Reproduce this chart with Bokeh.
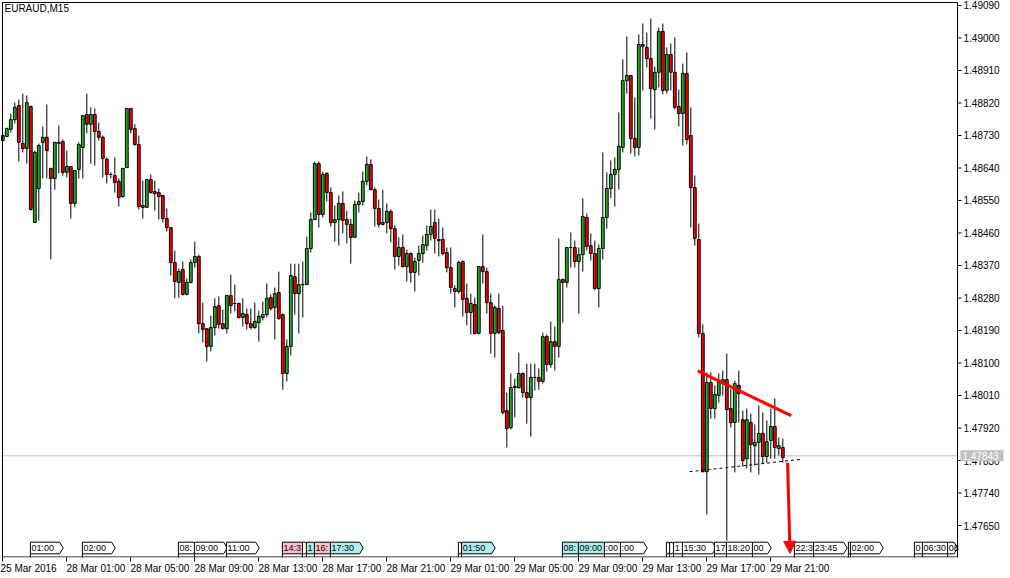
from bokeh.plotting import figure
from bokeh.models import Range1d, FixedTicker, Label, Arrow, NormalHead, AllLabels
from bokeh.core.properties import value
from bokeh.embed import file_html
from bokeh.resources import INLINE

symbol = "EURAUD,M15"

open_ = [1.48716, 1.48727, 1.48747, 1.48774, 1.48813, 1.48708, 1.48694, 1.48810, 1.48489, 1.48583,
         1.48711, 1.48725, 1.48639, 1.48611, 1.48708, 1.48713, 1.48628, 1.48644, 1.48542, 1.48636,
         1.48697, 1.48788, 1.48761, 1.48788, 1.48741, 1.48725, 1.48664, 1.48622, 1.48619, 1.48603,
         1.48561, 1.48641, 1.48805, 1.48749, 1.48705, 1.48536, 1.48531, 1.48608, 1.48575, 1.48572,
         1.48564, 1.48500, 1.48475, 1.48378, 1.48323, 1.48359, 1.48290, 1.48323, 1.48378, 1.48395,
         1.48209, 1.48195, 1.48146, 1.48198, 1.48259, 1.48209, 1.48195, 1.48287, 1.48265, 1.48265,
         1.48226, 1.48234, 1.48209, 1.48198, 1.48212, 1.48226, 1.48234, 1.48281, 1.48254, 1.48295,
         1.48234, 1.48071, 1.48146, 1.48339, 1.48292, 1.48317, 1.48317, 1.48417, 1.48497, 1.48652,
         1.48511, 1.48625, 1.48572, 1.48489, 1.48497, 1.48542, 1.48497, 1.48484, 1.48448, 1.48539,
         1.48547, 1.48603, 1.48650, 1.48580, 1.48528, 1.48484, 1.48489, 1.48520, 1.48472, 1.48395,
         1.48420, 1.48367, 1.48403, 1.48351, 1.48384, 1.48403, 1.48425, 1.48456, 1.48489, 1.48442,
         1.48442, 1.48406, 1.48364, 1.48306, 1.48298, 1.48381, 1.48279, 1.48240, 1.48262, 1.48182,
         1.48367, 1.48353, 1.48267, 1.48182, 1.48251, 1.48190, 1.47968, 1.47921, 1.48032, 1.48032,
         1.48071, 1.48018, 1.48004, 1.48060, 1.48060, 1.48049, 1.48173, 1.48096, 1.48159, 1.48146,
         1.48331, 1.48323, 1.48420, 1.48420, 1.48381, 1.48400, 1.48503, 1.48425, 1.48403, 1.48306,
         1.48417, 1.48503, 1.48583, 1.48622, 1.48636, 1.48697, 1.48882, 1.48896, 1.48722, 1.48697,
         1.48982, 1.48974, 1.48943, 1.48857, 1.48905, 1.49018, 1.48855, 1.48954, 1.48905, 1.48810,
         1.48791, 1.48902, 1.48730, 1.48586, 1.48442, 1.48182, 1.47799, 1.48046, 1.47974, 1.48010,
         1.48046, 1.48054, 1.47974, 1.47935, 1.48038, 1.47943, 1.47835, 1.47935, 1.47871, 1.47880,
         1.47905, 1.47841, 1.47885, 1.47924, 1.47863, 1.47866]

high_ = [1.48736, 1.48752, 1.48791, 1.48821, 1.48830, 1.48846, 1.48841, 1.48813, 1.48688, 1.48708,
         1.48755, 1.48816, 1.48639, 1.48711, 1.48758, 1.48719, 1.48688, 1.48644, 1.48633, 1.48711,
         1.48785, 1.48846, 1.48808, 1.48805, 1.48766, 1.48730, 1.48669, 1.48628, 1.48669, 1.48611,
         1.48639, 1.48805, 1.48805, 1.48761, 1.48730, 1.48605, 1.48608, 1.48622, 1.48605, 1.48583,
         1.48564, 1.48528, 1.48475, 1.48411, 1.48362, 1.48381, 1.48334, 1.48387, 1.48436, 1.48400,
         1.48267, 1.48195, 1.48231, 1.48279, 1.48284, 1.48248, 1.48287, 1.48345, 1.48317, 1.48267,
         1.48279, 1.48251, 1.48251, 1.48267, 1.48245, 1.48270, 1.48320, 1.48290, 1.48309, 1.48353,
         1.48237, 1.48165, 1.48375, 1.48375, 1.48375, 1.48381, 1.48450, 1.48517, 1.48658, 1.48658,
         1.48630, 1.48628, 1.48586, 1.48536, 1.48564, 1.48575, 1.48522, 1.48500, 1.48550, 1.48572,
         1.48630, 1.48672, 1.48664, 1.48586, 1.48553, 1.48580, 1.48542, 1.48525, 1.48481, 1.48448,
         1.48456, 1.48414, 1.48406, 1.48392, 1.48425, 1.48453, 1.48481, 1.48525, 1.48525, 1.48500,
         1.48475, 1.48420, 1.48420, 1.48315, 1.48384, 1.48384, 1.48320, 1.48292, 1.48281, 1.48367,
         1.48456, 1.48364, 1.48292, 1.48259, 1.48292, 1.48259, 1.48018, 1.48071, 1.48057, 1.48129,
         1.48074, 1.48098, 1.48098, 1.48098, 1.48085, 1.48184, 1.48179, 1.48215, 1.48201, 1.48445,
         1.48334, 1.48420, 1.48461, 1.48439, 1.48420, 1.48556, 1.48514, 1.48459, 1.48439, 1.48428,
         1.48683, 1.48628, 1.48661, 1.48669, 1.48794, 1.48941, 1.49004, 1.48896, 1.48835, 1.49010,
         1.49040, 1.49015, 1.49054, 1.48921, 1.49029, 1.49040, 1.48974, 1.48985, 1.49002, 1.48857,
         1.48929, 1.48960, 1.48808, 1.48619, 1.48486, 1.48207, 1.48074, 1.48074, 1.48038, 1.48071,
         1.48079, 1.48126, 1.48029, 1.48051, 1.48079, 1.47968, 1.47974, 1.47960, 1.47930, 1.47982,
         1.47963, 1.47941, 1.47974, 1.48002, 1.47894, 1.47891]

low_ = [1.48713, 1.48725, 1.48738, 1.48763, 1.48658, 1.48683, 1.48652, 1.48522, 1.48489, 1.48495,
        1.48611, 1.48611, 1.48387, 1.48580, 1.48625, 1.48619, 1.48614, 1.48500, 1.48531, 1.48611,
        1.48611, 1.48736, 1.48652, 1.48647, 1.48716, 1.48614, 1.48597, 1.48611, 1.48572, 1.48533,
        1.48558, 1.48641, 1.48736, 1.48702, 1.48525, 1.48500, 1.48531, 1.48569, 1.48522, 1.48497,
        1.48489, 1.48464, 1.48342, 1.48279, 1.48281, 1.48287, 1.48287, 1.48320, 1.48364, 1.48182,
        1.48157, 1.48104, 1.48132, 1.48176, 1.48195, 1.48193, 1.48182, 1.48237, 1.48243, 1.48223,
        1.48201, 1.48193, 1.48193, 1.48195, 1.48159, 1.48218, 1.48226, 1.48245, 1.48165, 1.48220,
        1.48026, 1.48049, 1.48121, 1.48234, 1.48182, 1.48226, 1.48317, 1.48406, 1.48497, 1.48475,
        1.48503, 1.48547, 1.48478, 1.48436, 1.48425, 1.48459, 1.48431, 1.48375, 1.48448, 1.48517,
        1.48536, 1.48592, 1.48578, 1.48478, 1.48475, 1.48481, 1.48459, 1.48434, 1.48359, 1.48370,
        1.48364, 1.48326, 1.48323, 1.48298, 1.48342, 1.48378, 1.48411, 1.48439, 1.48403, 1.48395,
        1.48398, 1.48351, 1.48292, 1.48254, 1.48292, 1.48229, 1.48204, 1.48179, 1.48179, 1.48179,
        1.48320, 1.48237, 1.48126, 1.48115, 1.48179, 1.47957, 1.47866, 1.47916, 1.47949, 1.48029,
        1.48004, 1.47932, 1.47896, 1.48024, 1.48026, 1.48043, 1.48076, 1.48087, 1.48079, 1.48115,
        1.48212, 1.48309, 1.48364, 1.48364, 1.48237, 1.48353, 1.48411, 1.48384, 1.48301, 1.48254,
        1.48387, 1.48472, 1.48556, 1.48533, 1.48580, 1.48683, 1.48846, 1.48680, 1.48672, 1.48675,
        1.48855, 1.48918, 1.48777, 1.48747, 1.48863, 1.48844, 1.48846, 1.48855, 1.48802, 1.48755,
        1.48702, 1.48705, 1.48475, 1.48425, 1.48171, 1.47797, 1.47680, 1.47946, 1.47946, 1.47990,
        1.48010, 1.47608, 1.47921, 1.47797, 1.47935, 1.47813, 1.47808, 1.47797, 1.47816, 1.47791,
        1.47821, 1.47824, 1.47835, 1.47835, 1.47844, 1.47824]

close_ = [1.48730, 1.48749, 1.48774, 1.48808, 1.48711, 1.48694, 1.48821, 1.48525, 1.48683, 1.48702,
          1.48725, 1.48688, 1.48611, 1.48711, 1.48711, 1.48628, 1.48644, 1.48542, 1.48633, 1.48705,
          1.48785, 1.48761, 1.48788, 1.48741, 1.48725, 1.48666, 1.48622, 1.48622, 1.48600, 1.48558,
          1.48639, 1.48805, 1.48747, 1.48705, 1.48533, 1.48531, 1.48608, 1.48572, 1.48569, 1.48561,
          1.48500, 1.48475, 1.48378, 1.48326, 1.48353, 1.48290, 1.48323, 1.48378, 1.48395, 1.48209,
          1.48193, 1.48146, 1.48198, 1.48256, 1.48207, 1.48195, 1.48287, 1.48259, 1.48265, 1.48226,
          1.48237, 1.48209, 1.48198, 1.48215, 1.48229, 1.48234, 1.48279, 1.48251, 1.48292, 1.48223,
          1.48071, 1.48146, 1.48342, 1.48292, 1.48317, 1.48317, 1.48417, 1.48497, 1.48652, 1.48511,
          1.48622, 1.48572, 1.48489, 1.48497, 1.48542, 1.48495, 1.48484, 1.48448, 1.48539, 1.48547,
          1.48603, 1.48650, 1.48580, 1.48528, 1.48484, 1.48489, 1.48520, 1.48472, 1.48395, 1.48420,
          1.48367, 1.48403, 1.48351, 1.48381, 1.48403, 1.48428, 1.48456, 1.48478, 1.48445, 1.48439,
          1.48403, 1.48364, 1.48309, 1.48298, 1.48378, 1.48276, 1.48240, 1.48265, 1.48182, 1.48367,
          1.48353, 1.48267, 1.48182, 1.48254, 1.48184, 1.47963, 1.47918, 1.48032, 1.48035, 1.48071,
          1.48018, 1.48004, 1.48060, 1.48060, 1.48049, 1.48173, 1.48096, 1.48159, 1.48146, 1.48331,
          1.48323, 1.48420, 1.48420, 1.48381, 1.48400, 1.48506, 1.48423, 1.48403, 1.48306, 1.48417,
          1.48503, 1.48583, 1.48622, 1.48636, 1.48700, 1.48882, 1.48896, 1.48722, 1.48697, 1.48982,
          1.48977, 1.48943, 1.48860, 1.48905, 1.49018, 1.48855, 1.48954, 1.48905, 1.48808, 1.48791,
          1.48902, 1.48719, 1.48586, 1.48445, 1.48182, 1.47799, 1.48046, 1.47974, 1.48013, 1.48046,
          1.48054, 1.47971, 1.47935, 1.48043, 1.48015, 1.47830, 1.47943, 1.47874, 1.47880, 1.47905,
          1.47841, 1.47882, 1.47924, 1.47866, 1.47871, 1.47838]

bar_index = list(range(len(open_)))

x_tick_bars = [0, 16, 32, 48, 64, 80, 96, 112, 128, 144, 160, 176, 192]
x_tick_labels = ["25 Mar 2016", "28 Mar 01:00", "28 Mar 05:00", "28 Mar 09:00", "28 Mar 13:00",
                 "28 Mar 17:00", "28 Mar 21:00", "29 Mar 01:00", "29 Mar 05:00", "29 Mar 09:00",
                 "29 Mar 13:00", "29 Mar 17:00", "29 Mar 21:00"]
y_ticks = [1.47650, 1.47740, 1.47830, 1.47920, 1.48010, 1.48100, 1.48190, 1.48280, 1.48370,
           1.48460, 1.48550, 1.48640, 1.48730, 1.48820, 1.48910, 1.49000, 1.49090]
current_price = 1.47843

# drawn objects (bar units / prices)
trend_x = [173.75, 197.1]
trend_y = [1.48078, 1.47954]
support_x = [171.7, 199.4]
support_y = [1.47799, 1.47833]
arrow_x = [196.2, 196.8]
arrow_y = [1.47824, 1.47573]

# event markers along the time scale
mk_start = [6.9, 19.9, 43.9, 47.9, 55.9, 69.9, 74.9, 75.9, 77.9, 81.9, 113.9, 114.7, 139.9, 143.9,
            150.4, 154.4, 165.9, 166.7, 167.7, 169.9, 177.9, 180.9, 187.4, 197.9, 202.7, 211.4,
            211.9, 227.9, 229.9, 236.2]
mk_end = [14.2, 27.2, 47.7, 55.2, 63.2, 74.9, 75.7, 77.7, 81.9, 89.2, 114.4, 122.2, 143.9, 150.4,
          154.4, 160.2, 166.4, 167.4, 169.9, 177.4, 180.9, 187.4, 191.2, 202.7, 210.2, 211.9,
          219.2, 229.9, 236.2, 237.8]
mk_text = ["01:00", "02:00", "08:", "09:00", "11:00", "14:3", "", "1", "16:", "17:30", "", "01:50",
           "08:", "09:00", ":00", ":00", "", "", "1", "15:30", "17", "18:20", "00", "22:3", "23:45",
           "", "02:00", "0", "06:30", "08"]
mk_kind = ["w", "w", "w", "w", "w", "p", "w", "c", "p", "c", "w", "c", "c", "c", "w", "w", "w",
           "w", "w", "w", "w", "w", "w", "w", "w", "w", "w", "w", "w", "w"]

# view window (bar units / prices)
X0, X1 = -0.575, 251.425
Y0, Y1 = 1.475614, 1.491038
FRAME_H = 557
PXP = (Y1 - Y0) / FRAME_H        # price per screen pixel
PXB = (X1 - X0) / 1008.0         # bars per screen pixel
AX = 238.675                     # price-scale line (bar units)
LEFT_B = X0 + 2 * PXB
TOP_B = Y1 - 2 * PXP
BOT_B = Y0 + 0.5 * PXP

FONT = "Liberation Sans"

p = figure(width=1008, height=576, output_backend="svg", toolbar_location=None,
           x_range=Range1d(X0, X1), y_range=Range1d(Y0, Y1),
           y_axis_location=None,
           min_border_left=0, min_border_top=0, min_border_right=0, min_border_bottom=576 - FRAME_H)
p.background_fill_color = "white"
p.border_fill_color = "white"
p.outline_line_color = None
p.grid.visible = False

# time axis
xa = p.xaxis[0]
xa.ticker = FixedTicker(ticks=x_tick_bars)
pad = {}
for k, (b, lab) in enumerate(zip(x_tick_bars, x_tick_labels)):
    pad[b] = lab if k == 0 else "\u00a0" * 21 + lab
xa.major_label_overrides = pad
xa.major_label_policy = AllLabels()
xa.axis_line_color = None
xa.major_tick_line_color = "black"
xa.major_tick_out = 4
xa.major_tick_in = 0
xa.minor_tick_out = 0
xa.minor_tick_in = 0
xa.major_label_text_font = FONT
xa.major_label_text_font_size = "10px"
xa.major_label_text_color = "black"
xa.major_label_standoff = 1

# current price line
p.segment(x0=[X0], y0=[current_price], x1=[AX], y1=[current_price],
          line_color="#c0c0c0", line_width=1)

# candles
body_top = [max(o, c) for o, c in zip(open_, close_)]
body_bot = [min(o, c) for o, c in zip(open_, close_)]
body_col = ["#20b020" if c > o else ("#ff0000" if c < o else "#000000")
            for o, c in zip(open_, close_)]
p.segment(x0=bar_index, y0=high_, x1=bar_index, y1=low_, line_color="black", line_width=1)
p.vbar(x=bar_index, width=0.7, top=body_top, bottom=body_bot, fill_color=body_col,
       line_color="black", line_width=1)

# event markers
colors = {"w": "#ffffff", "p": "#ffc0cb", "c": "#aeeeee"}
bot = Y0 + 3.7 * PXP
top = bot + 11.6 * PXP
mid = (top + bot) / 2
tip = 0.9
xs = [[a, a, b, b + tip, b] for a, b in zip(mk_start, mk_end)]
ys = [[bot, top, top, mid, bot] for _ in mk_start]
p.segment(x0=mk_start, y0=[bot] * len(mk_start), x1=mk_start, y1=[Y0] * len(mk_start),
          line_color="black", line_width=1)
p.patches(xs, ys, fill_color=[colors[k] for k in mk_kind], line_color="black", line_width=1)
p.text(x=[a + 0.3 for a in mk_start], y=[mid] * len(mk_start), text=mk_text,
       text_font=value(FONT), text_font_size="9px", text_baseline="middle",
       text_align="left", text_color="black")

# drawings
p.line(trend_x, trend_y, line_color="#ff0000", line_width=3)
p.line(support_x, support_y, line_color="black", line_width=1, line_dash="3 3")
p.add_layout(Arrow(end=NormalHead(size=12, fill_color="#ff0000", line_color="#ff0000",
                                  line_width=1),
                   x_start=arrow_x[0], y_start=arrow_y[0], x_end=arrow_x[1], y_end=arrow_y[1],
                   line_color="#ff0000", line_width=3))

# chart frame
p.segment(x0=[LEFT_B, LEFT_B, LEFT_B, AX], y0=[Y0, TOP_B, BOT_B, Y0],
          x1=[LEFT_B, AX, AX, AX], y1=[TOP_B, TOP_B, BOT_B, TOP_B],
          line_color="black", line_width=1)

# price scale
n = len(y_ticks)
p.segment(x0=[AX] * n, y0=y_ticks, x1=[AX + 4 * PXB] * n, y1=y_ticks,
          line_color="black", line_width=1)
p.text(x=[AX + 6 * PXB] * n, y=y_ticks, text=["%.5f" % t for t in y_ticks],
       text_font=value(FONT), text_font_size="10px", text_baseline="middle",
       text_align="left", text_color="black")
p.quad(left=[AX + 3 * PXB], right=[AX + 46 * PXB],
       bottom=[current_price - 5.5 * PXP], top=[current_price + 5.5 * PXP],
       fill_color="#c0c0c0", line_color=None)
p.text(x=[AX + 5 * PXB], y=[current_price], text=["%.5f" % current_price],
       text_font=value(FONT), text_font_size="10px", text_baseline="middle",
       text_align="left", text_color="white")

# symbol title
p.add_layout(Label(x=X0, y=Y1, x_offset=4, y_offset=-2, text=symbol, text_baseline="top",
                   text_font=FONT, text_font_size="10px", text_color="black"))

open("out.html", "w").write(file_html(p, INLINE))
